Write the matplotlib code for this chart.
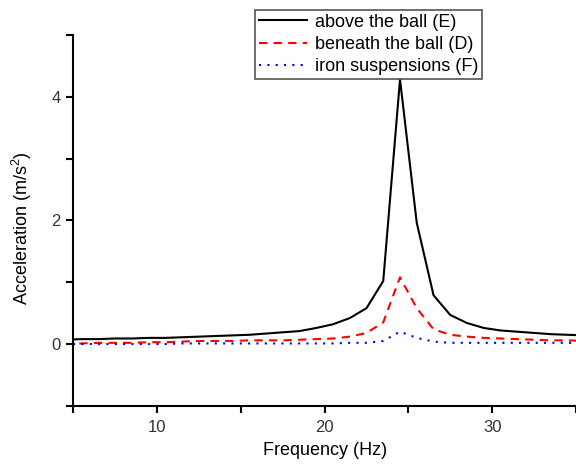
import matplotlib
matplotlib.use("Agg")
import matplotlib.pyplot as plt
from matplotlib.ticker import MultipleLocator

plt.rcParams['font.family'] = ['Liberation Sans', 'DejaVu Sans']
plt.rcParams['mathtext.fontset'] = 'custom'
plt.rcParams['mathtext.rm'] = 'Liberation Sans'
plt.rcParams['mathtext.it'] = 'Liberation Sans'

freq = [4.5, 5.5, 6.5, 7.5, 8.5, 9.5, 10.5, 11.5, 12.5, 13.5, 14.5, 15.5, 16.5, 17.5,
        18.5, 19.5, 20.5, 21.5, 22.5, 23.5, 24.5, 25.5, 26.5, 27.5, 28.5, 29.5, 30.5,
        31.5, 32.5, 33.5, 34.5, 35.5]
above_E = [0.07, 0.08, 0.08, 0.09, 0.09, 0.10, 0.10, 0.11, 0.12, 0.13, 0.14, 0.15, 0.17, 0.19,
           0.21, 0.26, 0.32, 0.42, 0.58, 1.02, 4.28, 1.96, 0.79, 0.47, 0.34, 0.26, 0.22,
           0.20, 0.18, 0.16, 0.15, 0.14]
beneath_D = [0.01, 0.01, 0.02, 0.02, 0.02, 0.03, 0.03, 0.04, 0.05, 0.05, 0.05, 0.06, 0.06, 0.06,
             0.07, 0.08, 0.09, 0.12, 0.18, 0.35, 1.08, 0.58, 0.24, 0.15, 0.12, 0.10, 0.09,
             0.08, 0.07, 0.06, 0.06, 0.05]
iron_F = [0.00, 0.00, 0.00, 0.00, 0.00, 0.00, 0.00, 0.01, 0.01, 0.01, 0.01, 0.01, 0.01, 0.01,
          0.01, 0.01, 0.01, 0.02, 0.02, 0.05, 0.20, 0.10, 0.04, 0.02, 0.02, 0.02, 0.02,
          0.02, 0.02, 0.02, 0.02, 0.02]
labels = ["above the ball (E)", "beneath the ball (D)", "iron suspensions (F)"]

fig = plt.figure(figsize=(5.76, 4.66), dpi=100)
ax = fig.add_axes([0.127, 0.129, 0.873, 0.796])

ax.plot(freq, above_E, color='black', lw=1.5, label=labels[0])
ax.plot(freq, beneath_D, color='#ff0000', lw=1.5, ls=(0, (4, 3)), label=labels[1])
ax.plot(freq, iron_F, color='#0000ff', lw=1.5, ls=(0, (1, 3)), label=labels[2])

ax.set_xlim(5, 35)
ax.set_ylim(-1, 5)
ax.xaxis.set_major_locator(MultipleLocator(10))
ax.xaxis.set_minor_locator(MultipleLocator(5))
ax.yaxis.set_major_locator(MultipleLocator(2))
ax.yaxis.set_minor_locator(MultipleLocator(1))
for s in ['top', 'right']:
    ax.spines[s].set_visible(False)
for s in ['left', 'bottom']:
    ax.spines[s].set_linewidth(1.5)
ax.tick_params(which='both', direction='out', length=5, width=1.5, labelsize=12, colors='black')
ax.tick_params(axis='y', pad=4)
ax.tick_params(axis='x', pad=5)
for lab in ax.get_xticklabels() + ax.get_yticklabels():
    lab.set_color('#333333')

ax.set_xlabel("Frequency (Hz)", fontsize=13, labelpad=5)
ax.set_ylabel("Acceleration (m/s$^2$)", fontsize=13)
ax.yaxis.set_label_coords(-0.078, 0.48)

leg = ax.legend(loc='upper left', bbox_to_anchor=(255/576, 1 - 10/466),
                bbox_transform=fig.transFigure, borderaxespad=0, fontsize=13,
                fancybox=False, framealpha=1, edgecolor='#555555', handlelength=2.7,
                handletextpad=0.4, labelspacing=0.3, borderpad=0.2)
leg.get_frame().set_linewidth(1.2)

fig.savefig("out.png", dpi=100)
